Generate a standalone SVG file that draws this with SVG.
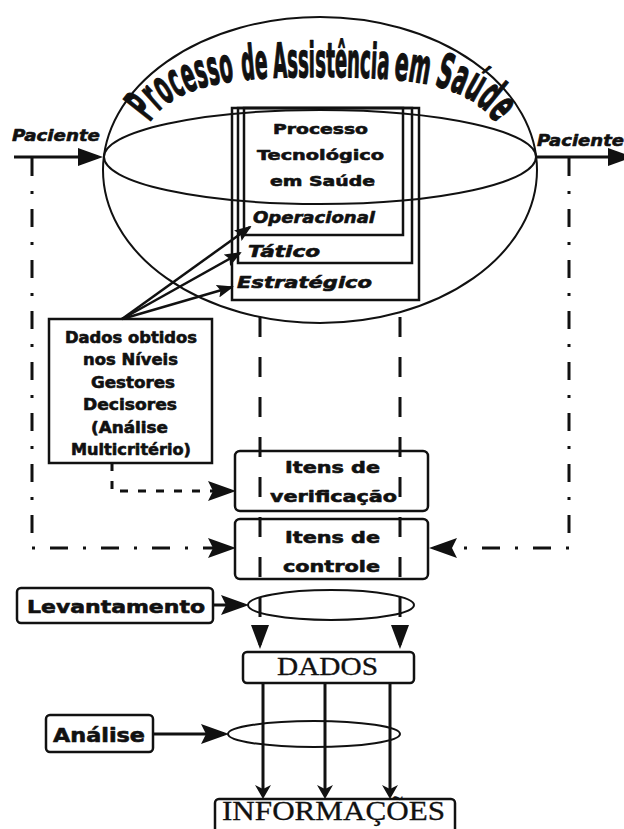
<svg xmlns="http://www.w3.org/2000/svg" width="624" height="829" viewBox="0 0 624 829">
  <style>
    .ln { fill: none; stroke: #111; }
    .box { fill: none; stroke: #111; stroke-width: 2.5; }
    .t { font-family: "DejaVu Sans", "Liberation Sans", sans-serif; font-weight: bold; fill: #111; stroke: #111; stroke-width: 0.6; stroke-linejoin: round; }
    .ti { font-family: "DejaVu Sans", "Liberation Sans", sans-serif; font-weight: bold; font-style: italic; fill: #111; stroke: #111; stroke-width: 0.6; stroke-linejoin: round; }
    .title { font-family: "DejaVu Sans Condensed", "Liberation Sans Narrow", sans-serif; font-weight: bold; font-size: 48px; fill: #111; stroke: #111; stroke-width: 1.3; stroke-linejoin: round; }
    .serif { font-family: "Liberation Serif", "DejaVu Serif", serif; fill: #111; stroke: #111; stroke-width: 0.3; }
    .dash { fill: none; stroke: #111; stroke-width: 3; stroke-dasharray: 20 20; }
    .dashdot { fill: none; stroke: #111; stroke-width: 3; stroke-dasharray: 18 15 3 15; }
    .short { fill: none; stroke: #111; stroke-width: 3; stroke-dasharray: 8 10; }
  </style>
  <defs>
    <marker id="big" markerUnits="userSpaceOnUse" viewBox="0 0 28 20" refX="23" refY="10" markerWidth="28" markerHeight="20" orient="auto">
      <path d="M0,0 L28,10 L0,20 L5,10 z" fill="#111"/>
    </marker>
    <marker id="pac" markerUnits="userSpaceOnUse" viewBox="0 0 25 18" refX="20" refY="9" markerWidth="25" markerHeight="18" orient="auto">
      <path d="M0,0 L25,9 L0,18 z" fill="#111"/>
    </marker>
    <marker id="small" markerUnits="userSpaceOnUse" viewBox="0 0 17 13" refX="15" refY="6.5" markerWidth="17" markerHeight="13" orient="auto">
      <path d="M0,0 L17,6.5 L0,13 L3,6.5 z" fill="#111"/>
    </marker>
    <marker id="tri" markerUnits="userSpaceOnUse" viewBox="0 0 24 18" refX="20" refY="9" markerWidth="24" markerHeight="18" orient="auto">
      <path d="M0,0 L24,9 L0,18 z" fill="#111"/>
    </marker>
    <marker id="chev" markerUnits="userSpaceOnUse" viewBox="0 0 14 16" refX="10" refY="8" markerWidth="14" markerHeight="16" orient="auto">
      <path d="M0,0 L14,8 L0,16 L4,8 z" fill="#111"/>
    </marker>
    <!-- baseline of the arched title -->
    <path id="titleArc" d="M142,138 C162,84 225,77 320,77 C415,77 480,83 504,138"/>
  </defs>

  <!-- health care process: outer egg and horizontal ring -->
  <g id="assistencia">
    <ellipse class="ln" cx="320" cy="170" rx="217" ry="153" stroke-width="2"/>
    <ellipse class="ln" cx="320" cy="157" rx="216" ry="47" stroke-width="2"/>
    <text class="title">
      <textPath href="#titleArc" startOffset="17"><tspan textLength="98" lengthAdjust="spacingAndGlyphs">Processo</tspan><tspan dx="8" textLength="26" lengthAdjust="spacingAndGlyphs">de</tspan><tspan dx="5" textLength="115" lengthAdjust="spacingAndGlyphs">Assistência</tspan><tspan dx="5" textLength="35" lengthAdjust="spacingAndGlyphs">em</tspan><tspan dx="6" textLength="74" lengthAdjust="spacingAndGlyphs">Saúde</tspan></textPath>
    </text>
  </g>

  <!-- technological process with its three management levels -->
  <g id="tecnologico">
    <rect class="box" x="232" y="108" width="187" height="192"/>
    <rect class="box" x="238" y="108" width="174" height="155"/>
    <rect class="box" x="244" y="108" width="159" height="127"/>
    <text class="t" font-size="14.5" x="273" y="134" textLength="95" lengthAdjust="spacingAndGlyphs">Processo</text>
    <text class="t" font-size="14.5" x="257" y="160" textLength="127" lengthAdjust="spacingAndGlyphs">Tecnológico</text>
    <text class="t" font-size="14.5" x="270" y="186" textLength="105" lengthAdjust="spacingAndGlyphs">em Saúde</text>
  </g>
  <g id="operacional">
    <text class="ti" font-size="16" x="253" y="223" textLength="122" lengthAdjust="spacingAndGlyphs">Operacional</text>
  </g>
  <g id="tatico">
    <text class="ti" font-size="16" x="248" y="257" textLength="72" lengthAdjust="spacingAndGlyphs">Tático</text>
  </g>
  <g id="estrategico">
    <text class="ti" font-size="16" x="237" y="288" textLength="135" lengthAdjust="spacingAndGlyphs">Estratégico</text>
  </g>

  <g id="paciente-entrada">
    <text class="ti" font-size="16" x="12" y="141" textLength="88" lengthAdjust="spacingAndGlyphs">Paciente</text>
  </g>
  <g id="paciente-saida">
    <text class="ti" font-size="16" x="537" y="146" textLength="87" lengthAdjust="spacingAndGlyphs">Paciente</text>
  </g>

  <g id="dados-obtidos">
    <rect class="box" x="49" y="319" width="163" height="144"/>
    <text class="t" font-size="15" x="65" y="343" textLength="132" lengthAdjust="spacingAndGlyphs">Dados obtidos</text>
    <text class="t" font-size="15" x="83" y="365" textLength="95" lengthAdjust="spacingAndGlyphs">nos Níveis</text>
    <text class="t" font-size="15" x="91" y="388" textLength="84" lengthAdjust="spacingAndGlyphs">Gestores</text>
    <text class="t" font-size="15" x="83" y="410" textLength="94" lengthAdjust="spacingAndGlyphs">Decisores</text>
    <text class="t" font-size="15" x="91" y="433" textLength="77" lengthAdjust="spacingAndGlyphs">(Análise</text>
    <text class="t" font-size="15" x="71" y="455" textLength="120" lengthAdjust="spacingAndGlyphs">Multicritério)</text>
  </g>

  <g id="itens-verificacao">
    <rect class="box" x="235" y="451" width="193" height="60" rx="5"/>
    <text class="t" font-size="16.5" x="285" y="473" textLength="95" lengthAdjust="spacingAndGlyphs">Itens de</text>
    <text class="t" font-size="16.5" x="270" y="502" textLength="127" lengthAdjust="spacingAndGlyphs">verificação</text>
  </g>
  <g id="itens-controle">
    <rect class="box" x="235" y="519" width="193" height="60" rx="5"/>
    <text class="t" font-size="16.5" x="285" y="543" textLength="95" lengthAdjust="spacingAndGlyphs">Itens de</text>
    <text class="t" font-size="16.5" x="283" y="572" textLength="97" lengthAdjust="spacingAndGlyphs">controle</text>
  </g>

  <g id="levantamento">
    <rect class="box" x="17" y="588" width="196" height="35" rx="4"/>
    <text class="t" font-size="18" x="27" y="613" textLength="178" lengthAdjust="spacingAndGlyphs">Levantamento</text>
  </g>
  <g id="levantamento-anel">
    <ellipse class="ln" cx="331" cy="605" rx="83" ry="15" stroke-width="2"/>
  </g>

  <g id="dados">
    <rect class="box" x="243" y="652" width="171" height="31" rx="4"/>
    <text class="serif" font-size="25" x="277" y="675" textLength="101" lengthAdjust="spacingAndGlyphs">DADOS</text>
  </g>

  <g id="analise">
    <rect class="box" x="46" y="715" width="107" height="37" rx="4"/>
    <text class="t" font-size="19" x="53" y="742" textLength="92" lengthAdjust="spacingAndGlyphs">Análise</text>
  </g>
  <g id="analise-anel">
    <ellipse class="ln" cx="314" cy="734" rx="86" ry="13" stroke-width="2"/>
  </g>

  <g id="informacoes">
    <rect class="box" x="215" y="799" width="240" height="60" rx="4"/>
    <text class="serif" font-size="27" x="222" y="820" textLength="223" lengthAdjust="spacingAndGlyphs">INFORMAÇÕES</text>
  </g>

  <g id="conectores">
    <!-- patient flow -->
    <path class="ln" stroke-width="3" d="M14,157 H98" marker-end="url(#pac)"/>
    <path class="ln" stroke-width="3" d="M536,157 H628" marker-end="url(#pac)"/>
    <!-- patient flow feeding the control items -->
    <path class="dashdot" d="M32,158 V548 H231" marker-end="url(#big)"/>
    <path class="dashdot" d="M569,158 V548 H434" marker-end="url(#big)"/>
    <!-- decision data to each management level -->
    <path class="ln" stroke-width="2.5" d="M122,319 L250,227" marker-end="url(#small)"/>
    <path class="ln" stroke-width="2.5" d="M122,319 L240,253" marker-end="url(#small)"/>
    <path class="ln" stroke-width="2.5" d="M122,319 L232,287" marker-end="url(#small)"/>
    <!-- decision data to verification items -->
    <path class="short" d="M112,463 V491 H231" marker-end="url(#big)"/>
    <!-- vertical data paths through the items -->
    <path class="dash" d="M260,317 V645" marker-end="url(#tri)"/>
    <path class="dash" d="M400,317 V645" marker-end="url(#tri)"/>
    <!-- survey and analysis -->
    <path class="ln" stroke-width="3" d="M213,605 H244" marker-end="url(#big)"/>
    <path class="ln" stroke-width="3" d="M153,734 H224" marker-end="url(#big)"/>
    <!-- data to information -->
    <path class="ln" stroke-width="3" d="M263,683 V795" marker-end="url(#chev)"/>
    <path class="ln" stroke-width="3" d="M325,683 V795" marker-end="url(#chev)"/>
    <path class="ln" stroke-width="3" d="M390,683 V795" marker-end="url(#chev)"/>
  </g>
</svg>
